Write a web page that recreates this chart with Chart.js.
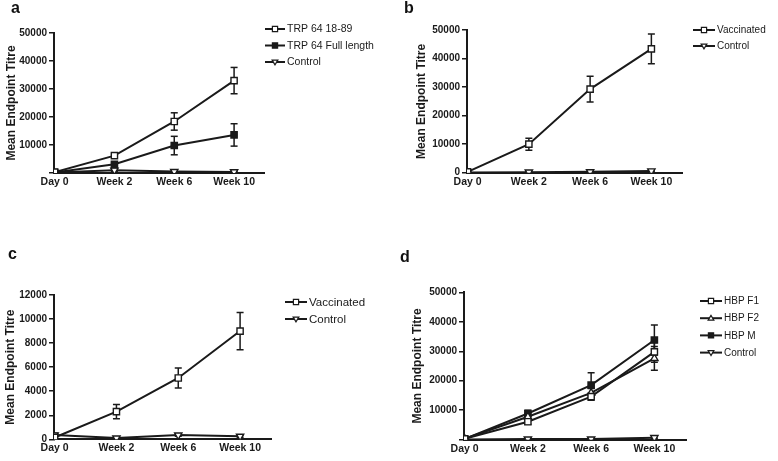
<!DOCTYPE html>
<html>
<head>
<meta charset="utf-8">
<script src="https://cdn.jsdelivr.net/npm/chart.js@4.4.1/dist/chart.umd.min.js"></script>
<style>
  body { margin: 0; background: #fff; }
  #wrap { position: relative; width: 778px; height: 461px; overflow: hidden; }
  #wrap canvas { position: absolute; left: 0; top: 0; }
  .tag { position: absolute; font: bold 16px 'Liberation Sans', Arial, sans-serif; line-height: 16px; color: #111; }
</style>
</head>
<body>
<div id="wrap">
  <canvas id="chartA" width="778" height="461"></canvas>
  <canvas id="chartB" width="778" height="461"></canvas>
  <canvas id="chartC" width="778" height="461"></canvas>
  <canvas id="chartD" width="778" height="461"></canvas>
  <div class="tag" style="left:11px;top:0px">a</div>
  <div class="tag" style="left:404px;top:0px">b</div>
  <div class="tag" style="left:8px;top:246px">c</div>
  <div class="tag" style="left:400px;top:249px">d</div>
</div>
<script>
const categories = ['Day 0', 'Week 2', 'Week 6', 'Week 10'];

// a
const aTrp1889 = [300, 6200, 18400, 33000];
const aTrp1889Err = [200, 500, 3100, 4700];
const aTrpFull = [200, 3100, 9800, 13600];
const aTrpFullErr = [100, 600, 3300, 4000];
const aControl = [200, 1000, 500, 400];
const aControlErr = [100, 400, 300, 200];

// b
const bVaccinated = [300, 10000, 29300, 43400];
const bVaccinatedErr = [200, 2100, 4500, 5200];
const bControl = [100, 200, 300, 600];
const bControlErr = [80, 100, 100, 300];

// c
const cVaccinated = [150, 2300, 5100, 9000];
const cVaccinatedErr = [100, 600, 830, 1550];
const cControl = [350, 100, 350, 250];
const cControlErr = [150, 50, 100, 80];

// d
const dF1 = [300, 6100, 14600, 29800];
const dF1Err = [200, 900, 1200, 3500];
const dF2 = [300, 7800, 15900, 27600];
const dF2Err = [200, 1000, 1500, 4000];
const dM = [300, 8900, 18500, 33800];
const dMErr = [200, 1100, 4200, 5100];
const dControl = [100, 200, 200, 700];
const dControlErr = [50, 100, 100, 300];

const INK = '#1a1a1a';
const FONT = "'Liberation Sans', Arial, sans-serif";

function points(vals) {
  return vals.map((v, i) => ({x: i, y: v}));
}

// low/high pairs split by nulls, caps come from the 'line' point style
function errorPoints(vals, errs) {
  const out = [];
  vals.forEach((v, i) => {
    out.push({x: i, y: v - errs[i]}, {x: i, y: v + errs[i]}, {x: i, y: null});
  });
  return out;
}

function drawMarker(ctx, style, fill, x, y, r) {
  ctx.beginPath();
  if (style === 'rect') {
    ctx.rect(x - r, y - r, 2 * r, 2 * r);
  } else {
    const dir = style === 'down' ? 1 : -1;
    ctx.moveTo(x, y + dir * r * 1.1);
    ctx.lineTo(x - r * 1.1, y - dir * r * 0.75);
    ctx.lineTo(x + r * 1.1, y - dir * r * 0.75);
    ctx.closePath();
  }
  ctx.fillStyle = fill ? INK : '#fff';
  ctx.fill();
  ctx.lineWidth = 1.2;
  ctx.strokeStyle = INK;
  ctx.stroke();
}

const sideLegend = {
  id: 'sideLegend',
  afterDraw(chart, args, opts) {
    const ctx = chart.ctx;
    ctx.save();
    ctx.font = opts.size + 'px ' + FONT;
    ctx.textBaseline = 'middle';
    opts.items.forEach((it, i) => {
      const y = opts.y + i * opts.gap;
      ctx.beginPath();
      ctx.moveTo(opts.x, y);
      ctx.lineTo(opts.x + opts.len, y);
      ctx.lineWidth = 2;
      ctx.strokeStyle = INK;
      ctx.stroke();
      drawMarker(ctx, it.style, it.fill, opts.x + opts.len / 2, y, 2.6);
      ctx.fillStyle = INK;
      ctx.fillText(it.label, opts.x + opts.len + 2, y + 0.5);
    });
    ctx.restore();
  }
};

function makePanel(id, series, area, yMax, yStep, hideZero, legend) {
  const datasets = [];
  series.forEach(s => {
    datasets.push({
      label: s.label,
      data: points(s.vals),
      borderColor: INK,
      borderWidth: 2,
      pointStyle: s.style === 'rect' ? 'rect' : 'triangle',
      rotation: s.style === 'down' ? 180 : 0,
      pointRadius: s.style === 'rect' ? 4.4 : 4.2,
      pointBorderWidth: 1.4,
      pointBorderColor: INK,
      pointBackgroundColor: s.fill ? INK : '#fff',
      order: 1
    });
    datasets.push({
      data: errorPoints(s.vals, s.errs),
      borderColor: INK,
      borderWidth: 1.5,
      spanGaps: false,
      pointStyle: 'line',
      pointRadius: 3.5,
      pointBorderWidth: 1.5,
      pointBorderColor: INK,
      order: 2
    });
  });

  const padLeft = area.titleX - 11;
  new Chart(document.getElementById(id), {
    type: 'line',
    data: {datasets},
    options: {
      responsive: false,
      animation: false,
      devicePixelRatio: 1,
      layout: {padding: {left: padLeft, top: area.top, right: 778 - area.right, bottom: 0}},
      plugins: {
        legend: {display: false},
        tooltip: {enabled: false},
        sideLegend: legend
      },
      scales: {
        x: {
          type: 'linear',
          min: -0.01,
          max: 3.5,
          afterBuildTicks: s => { s.ticks = categories.map((c, i) => ({value: i})); },
          afterFit: s => { s.height = 461 - area.bottom; },
          grid: {display: false, drawTicks: false},
          border: {display: true, color: INK, width: 2},
          ticks: {
            callback: v => categories[v],
            color: INK,
            padding: 3,
            maxRotation: 0,
            autoSkip: false,
            font: {family: FONT, size: 10.5, weight: 'bold'}
          }
        },
        y: {
          min: 0,
          max: yMax,
          afterFit: s => { s.width = area.left - padLeft; },
          grid: {drawOnChartArea: false, drawTicks: true, tickLength: 5, color: INK, lineWidth: 1.5},
          border: {display: true, color: INK, width: 2},
          ticks: {
            stepSize: yStep,
            color: INK,
            padding: 2,
            callback: v => (hideZero && v === 0) ? '' : String(v),
            font: {family: FONT, size: 10, weight: 'bold'}
          },
          title: {
            display: true,
            text: 'Mean Endpoint Titre',
            color: INK,
            padding: {top: 4, bottom: 0},
            font: {family: FONT, size: 12, weight: 'bold'}
          }
        }
      }
    },
    plugins: [sideLegend]
  });
}

const seriesA = [
  {label: 'TRP 64 18-89', vals: aTrp1889, errs: aTrp1889Err, style: 'rect', fill: false},
  {label: 'TRP 64 Full length', vals: aTrpFull, errs: aTrpFullErr, style: 'rect', fill: true},
  {label: 'Control', vals: aControl, errs: aControlErr, style: 'down', fill: false}
];
const seriesB = [
  {label: 'Vaccinated', vals: bVaccinated, errs: bVaccinatedErr, style: 'rect', fill: false},
  {label: 'Control', vals: bControl, errs: bControlErr, style: 'down', fill: false}
];
const seriesC = [
  {label: 'Vaccinated', vals: cVaccinated, errs: cVaccinatedErr, style: 'rect', fill: false},
  {label: 'Control', vals: cControl, errs: cControlErr, style: 'down', fill: false}
];
const seriesD = [
  {label: 'HBP F1', vals: dF1, errs: dF1Err, style: 'rect', fill: false},
  {label: 'HBP F2', vals: dF2, errs: dF2Err, style: 'up', fill: false},
  {label: 'HBP M', vals: dM, errs: dMErr, style: 'rect', fill: true},
  {label: 'Control', vals: dControl, errs: dControlErr, style: 'down', fill: false}
];

makePanel('chartA', seriesA, {left: 54, right: 264, top: 33, bottom: 173, titleX: 11}, 50000, 10000, true,
  {x: 265, y: 29, gap: 16.5, size: 10.5, len: 20, items: seriesA});
makePanel('chartB', seriesB, {left: 467, right: 682, top: 30, bottom: 172.7, titleX: 421}, 50000, 10000, false,
  {x: 693, y: 30, gap: 16, size: 10, len: 22, items: seriesB});
makePanel('chartC', seriesC, {left: 54, right: 271, top: 295, bottom: 439.3, titleX: 10}, 12000, 2000, false,
  {x: 285, y: 302, gap: 17, size: 11.5, len: 22, items: seriesC});
makePanel('chartD', seriesD, {left: 464, right: 686, top: 292.3, bottom: 439.7, titleX: 417}, 50000, 10000, true,
  {x: 700, y: 301, gap: 17.2, size: 10, len: 22, items: seriesD});
</script>
</body>
</html>
